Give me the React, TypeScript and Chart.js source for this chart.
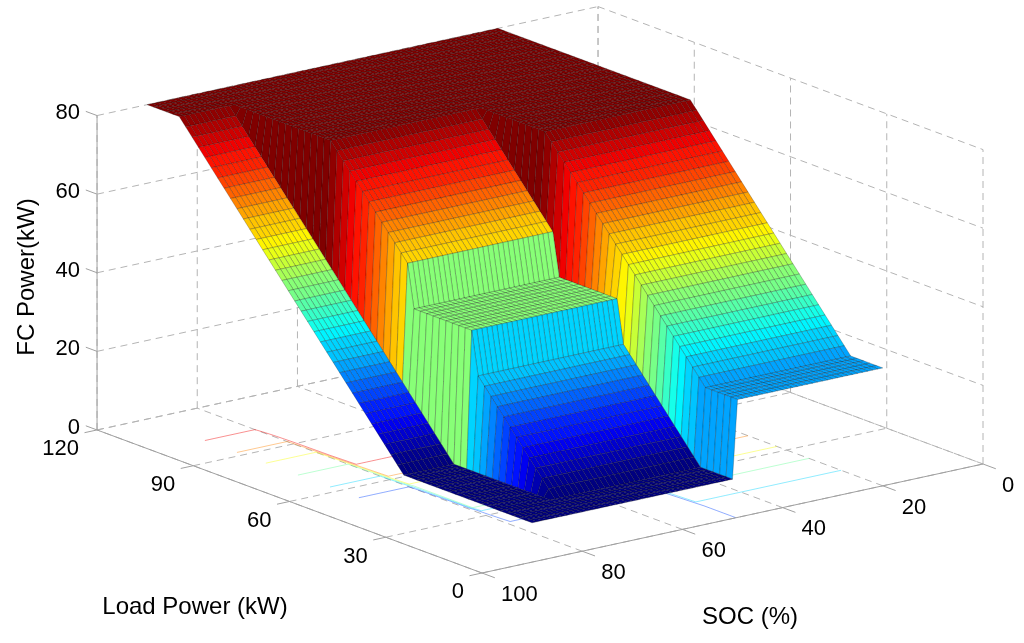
import React, { useEffect, useRef } from 'react';
import { Chart, registerables } from 'chart.js';

Chart.register(...registerables);

// FC power: one row per SOC knot, one column per load knot
const socKnots  = [20, 49, 50, 79, 80, 90];
const loadKnots = [0, 10, 34, 36, 40, 54, 56, 60, 80, 110, 120];
const fcLowSoc  = [30, 30, 54, 56, 60, 74, 76, 80, 80, 80, 80];  // SOC 20-49
const fcMidSoc  = [10, 10, 34, 45, 45, 45, 56, 60, 80, 80, 80];  // SOC 50-79
const fcHighSoc = [10, 10, 10, 10, 10, 24, 26, 30, 50, 80, 80];  // SOC 80-90
const fcRows    = [fcLowSoc, fcLowSoc, fcMidSoc, fcMidSoc, fcHighSoc, fcHighSoc];

const socTicks  = [0, 20, 40, 60, 80, 100];
const loadTicks = [0, 30, 60, 90, 120];
const fcTicks   = [0, 20, 40, 60, 80];
const contourLevels = [24, 33, 43, 53, 62, 72];

const W = 1024;
const H = 643;
const FONT = '"Liberation Sans", Arial, Helvetica, sans-serif';

// mesh resolution used when drawing the surface
const SOC_STEP = 1;
const LOAD_STEP = 2;

// orthographic view (view units == chart scale units)
function project(soc: number, load: number, fc: number) {
  const u = 100 - soc;
  return {
    x: 482 + u * 5.01 - load * 3.208,
    y: 573 - u * 1.09 - load * 1.192 - fc * 3.93,
  };
}
const depthOf = (soc: number, load: number) => (100 - soc) * 1.09 + load * 1.192;

function interp(xs: number[], ys: number[], x: number) {
  if (x <= xs[0]) return ys[0];
  for (let i = 1; i < xs.length; i++) {
    if (x <= xs[i]) {
      const t = (x - xs[i - 1]) / (xs[i] - xs[i - 1]);
      return ys[i - 1] + t * (ys[i] - ys[i - 1]);
    }
  }
  return ys[ys.length - 1];
}

function fcAt(soc: number, load: number) {
  const col = fcRows.map(r => interp(loadKnots, r, load));
  return interp(socKnots, col, soc);
}

const zMin = Math.min(...fcRows.flat());
const zMax = Math.max(...fcRows.flat());

function jet(t: number) {
  const k = Math.max(0, Math.min(63, Math.floor(t * 64)));
  const x = k / 63;
  const c = (v: number) => Math.round(255 * Math.max(0, Math.min(1, v)));
  const r = c(Math.min(4 * x - 1.5, -4 * x + 4.5));
  const g = c(Math.min(4 * x - 0.5, -4 * x + 3.5));
  const b = c(Math.min(4 * x + 0.5, -4 * x + 2.5));
  return `rgb(${r},${g},${b})`;
}
const colorOf = (z: number) => jet((z - zMin) / (zMax - zMin));

const surfacePlugin = {
  id: 'surface3d',
  afterDraw(chart: any) {
    const { ctx } = chart;
    const sx = chart.scales.x;
    const sy = chart.scales.y;
    const P = (s: number, l: number, z: number): [number, number] => {
      const v = project(s, l, z);
      return [sx.getPixelForValue(v.x), sy.getPixelForValue(v.y)];
    };
    const seg = (a: [number, number], b: [number, number]) => {
      ctx.beginPath();
      ctx.moveTo(a[0], a[1]);
      ctx.lineTo(b[0], b[1]);
      ctx.stroke();
    };

    ctx.save();

    // back planes and floor grid
    ctx.strokeStyle = '#b4b4b4';
    ctx.lineWidth = 1;
    ctx.setLineDash([7, 5]);
    socTicks.forEach(s => { seg(P(s, 0, 0), P(s, 120, 0)); seg(P(s, 120, 0), P(s, 120, 80)); });
    loadTicks.forEach(l => { seg(P(100, l, 0), P(0, l, 0)); seg(P(0, l, 0), P(0, l, 80)); });
    fcTicks.forEach(z => { seg(P(100, 120, z), P(0, 120, z)); seg(P(0, 120, z), P(0, 0, z)); });
    ctx.setLineDash([]);

    // sample the surface
    const socs: number[] = [];
    for (let s = socKnots[0]; s <= socKnots[socKnots.length - 1]; s += SOC_STEP) socs.push(s);
    const loads: number[] = [];
    for (let l = 0; l <= 120; l += LOAD_STEP) loads.push(l);
    const Z = socs.map(s => loads.map(l => fcAt(s, l)));

    // floor contours (surfc style)
    ctx.lineWidth = 0.8;
    ctx.globalAlpha = 0.55;
    contourLevels.forEach(c => {
      ctx.strokeStyle = colorOf(c);
      ctx.beginPath();
      for (let i = 0; i < socs.length - 1; i++) {
        for (let j = 0; j < loads.length - 1; j++) {
          const cs = [
            [socs[i], loads[j], Z[i][j]],
            [socs[i + 1], loads[j], Z[i + 1][j]],
            [socs[i + 1], loads[j + 1], Z[i + 1][j + 1]],
            [socs[i], loads[j + 1], Z[i][j + 1]],
          ];
          const pts: [number, number][] = [];
          for (let k = 0; k < 4; k++) {
            const a = cs[k];
            const b = cs[(k + 1) % 4];
            if ((a[2] < c) !== (b[2] < c)) {
              const t = (c - a[2]) / (b[2] - a[2]);
              pts.push(P(a[0] + t * (b[0] - a[0]), a[1] + t * (b[1] - a[1]), 0));
            }
          }
          if (pts.length >= 2) { ctx.moveTo(pts[0][0], pts[0][1]); ctx.lineTo(pts[1][0], pts[1][1]); }
          if (pts.length === 4) { ctx.moveTo(pts[2][0], pts[2][1]); ctx.lineTo(pts[3][0], pts[3][1]); }
        }
      }
      ctx.stroke();
    });
    ctx.globalAlpha = 1;

    // axes lines
    ctx.strokeStyle = '#a0a0a0';
    ctx.lineWidth = 1;
    seg(P(0, 0, 0), P(100, 0, 0));
    seg(P(100, 0, 0), P(100, 120, 0));
    seg(P(100, 120, 0), P(100, 120, 80));
    socTicks.forEach(s => seg(P(s, 0, 0), P(s, -4, 0)));
    loadTicks.forEach(l => seg(P(100, l, 0), P(102.5, l, 0)));
    fcTicks.forEach(z => seg(P(100, 120, z), P(100, 123.5, z)));

    // surface faces, far to near
    const quads: { d: number; p: [number, number][]; c: string }[] = [];
    for (let i = 0; i < socs.length - 1; i++) {
      for (let j = 0; j < loads.length - 1; j++) {
        const s0 = socs[i], s1 = socs[i + 1], l0 = loads[j], l1 = loads[j + 1];
        quads.push({
          d: depthOf((s0 + s1) / 2, (l0 + l1) / 2),
          p: [P(s0, l0, Z[i][j]), P(s1, l0, Z[i + 1][j]), P(s1, l1, Z[i + 1][j + 1]), P(s0, l1, Z[i][j + 1])],
          c: colorOf(Z[i][j]),
        });
      }
    }
    quads.sort((a, b) => b.d - a.d);
    ctx.lineWidth = 0.5;
    ctx.strokeStyle = 'rgba(0,0,0,0.45)';
    ctx.lineJoin = 'round';
    quads.forEach(q => {
      ctx.beginPath();
      ctx.moveTo(q.p[0][0], q.p[0][1]);
      for (let k = 1; k < 4; k++) ctx.lineTo(q.p[k][0], q.p[k][1]);
      ctx.closePath();
      ctx.fillStyle = q.c;
      ctx.fill();
      ctx.stroke();
    });

    // tick labels
    ctx.fillStyle = '#000';
    ctx.font = `22px ${FONT}`;
    ctx.textBaseline = 'alphabetic';
    const mid = 22 * 0.358;
    ctx.textAlign = 'left';
    socTicks.forEach(s => { const p = P(s, 0, 0); ctx.fillText(String(s), p[0] + 19, p[1] + 20 + mid); });
    ctx.textAlign = 'right';
    loadTicks.forEach(l => { const p = P(100, l, 0); ctx.fillText(String(l), p[0] - 18, p[1] + 17.5 + mid); });
    fcTicks.forEach(z => { const p = P(100, 120, z); ctx.fillText(String(z), p[0] - 17, p[1] - 4 + mid); });

    // axis titles
    ctx.font = `24px ${FONT}`;
    ctx.textAlign = 'center';
    ctx.textBaseline = 'middle';
    ctx.fillText('SOC (%)', sx.getPixelForValue(750), sy.getPixelForValue(617));
    ctx.fillText('Load Power (kW)', sx.getPixelForValue(195), sy.getPixelForValue(607));
    ctx.save();
    ctx.translate(sx.getPixelForValue(27), sy.getPixelForValue(277));
    ctx.rotate(-Math.PI / 2);
    ctx.fillText('FC Power(kW)', 0, 0);
    ctx.restore();

    ctx.restore();
  },
};

export default function App() {
  const ref = useRef<HTMLCanvasElement>(null);

  useEffect(() => {
    const canvas = ref.current;
    if (!canvas) return;
    const chart = new Chart(canvas, {
      type: 'scatter',
      data: { datasets: [{ data: [], pointRadius: 0 }] },
      options: {
        animation: false,
        responsive: false,
        events: [],
        layout: { padding: 0 },
        plugins: { legend: { display: false }, tooltip: { enabled: false } },
        scales: {
          x: { type: 'linear', display: false, min: 0, max: W },
          y: { type: 'linear', display: false, min: 0, max: H, reverse: true },
        },
      },
      plugins: [surfacePlugin],
    });
    return () => { chart.destroy(); };
  }, []);

  return (
    <div style={{ position: 'fixed', left: 0, top: 0, width: W, height: H, background: '#fff' }}>
      <canvas ref={ref} width={W} height={H} style={{ display: 'block', width: W, height: H }} />
    </div>
  );
}
